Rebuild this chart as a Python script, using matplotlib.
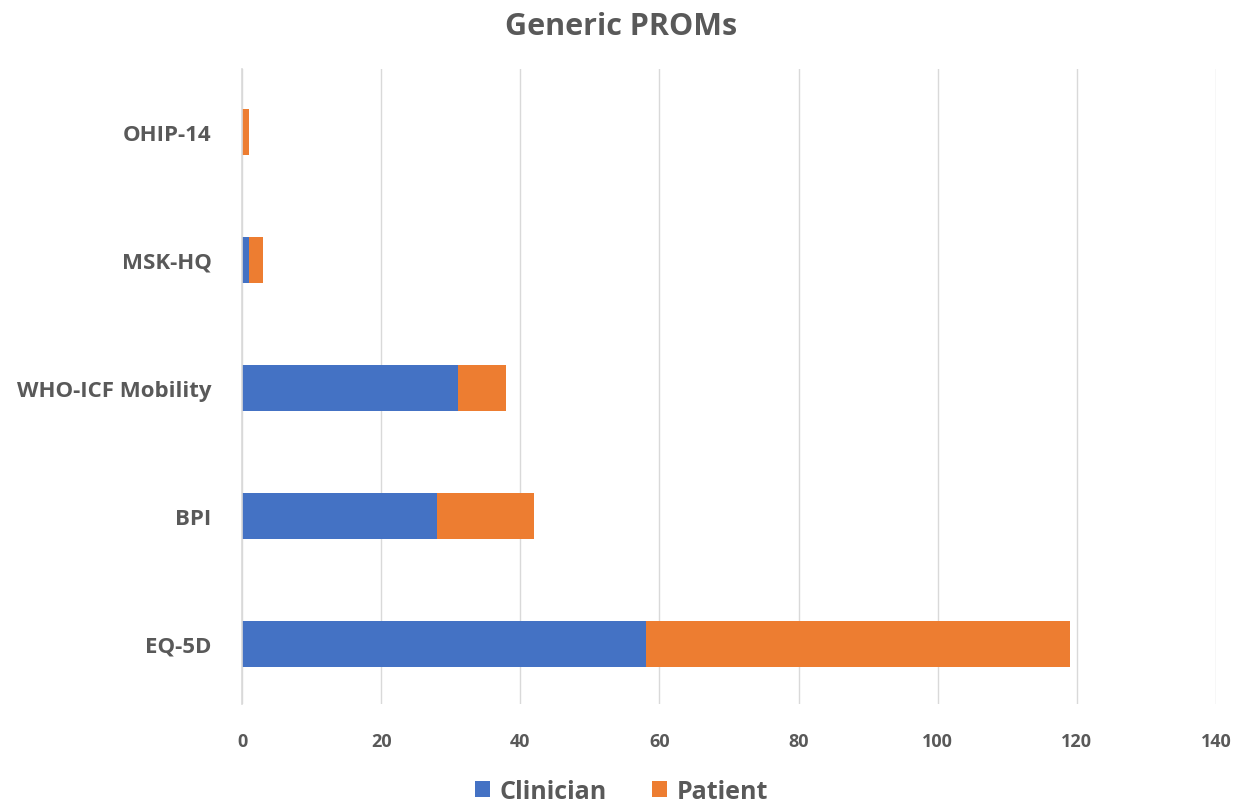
import matplotlib.pyplot as plt
import numpy as np

# Data
categories = ["EQ-5D", "BPI", "WHO-ICF Mobility", "MSK-HQ", "OHIP-14"]
clinician = [58, 28, 31, 1, 0]
patient = [61, 14, 7, 2, 1]
x_ticks = [0, 20, 40, 60, 80, 100, 120, 140]

plt.rcParams['font.family'] = ['Open Sans', 'DejaVu Sans']
grey = "#595959"

fig = plt.figure(figsize=(12.43, 8.03), dpi=100)
ax = fig.add_axes([0.1947, 0.122, 0.7836, 0.791])

y = np.arange(len(categories))
ax.barh(y, clinician, height=0.36, color="#4472C4", label="Clinician", zorder=3)
ax.barh(y, patient, left=clinician, height=0.36, color="#ED7D31", label="Patient", zorder=3)

ax.set_xlim(0, 140)
ax.set_ylim(-0.47, 4.49)
ax.set_xticks(x_ticks)
ax.set_xticklabels([str(t) for t in x_ticks], fontsize=13, fontweight="bold", color=grey)
ax.set_yticks(y)
ax.set_yticklabels(categories, fontsize=16, fontweight="bold", color=grey)
ax.tick_params(axis="both", length=0)
ax.tick_params(axis="x", pad=20)
ax.tick_params(axis="y", pad=22)

ax.grid(axis="x", color="#d9d9d9", linewidth=1, zorder=0)
for s in ["top", "right", "bottom"]:
    ax.spines[s].set_visible(False)
ax.spines["left"].set_color("#d9d9d9")
ax.spines["left"].set_linewidth(1.2)
ax.spines["left"].set_zorder(4)

fig.suptitle("Generic PROMs", fontsize=22, fontweight="bold", color=grey, y=0.985)

leg = fig.legend(loc="lower center", bbox_to_anchor=(0.5, -0.03), ncol=2, frameon=False,
                 fontsize=18, handlelength=0.6, handleheight=0.6, columnspacing=1.8,
                 handletextpad=0.4)
for t in leg.get_texts():
    t.set_color(grey)
    t.set_fontweight("bold")

fig.savefig("out.png", dpi=100)
